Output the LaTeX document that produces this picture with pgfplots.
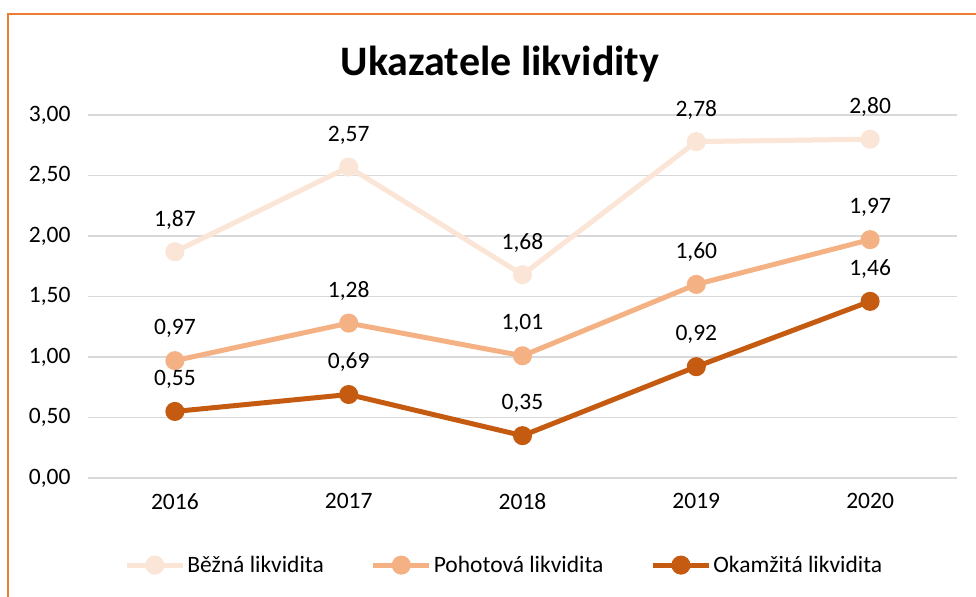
\documentclass[border=0pt]{standalone}
\usepackage{pgfplots}
\pgfplotsset{compat=1.18}
\usepackage{fontspec}
\setmainfont{Carlito}
\definecolor{cA}{HTML}{FBE5D6}
\definecolor{cB}{HTML}{F4B183}
\definecolor{cC}{HTML}{C55A11}
\definecolor{bord}{HTML}{ED7D31}
\definecolor{grd}{HTML}{D9D9D9}
\begin{document}
\begin{tikzpicture}
\path[use as bounding box] (0,0) rectangle (976bp,597bp);
\draw[bord, line width=2.7bp] (8bp,-2bp) -- (8bp,583bp) -- (978bp,583bp);
\node[font=\fontsize{42bp}{48bp}\selectfont\bfseries] at (500bp,533bp) {Ukazatele likvidity};
\begin{axis}[
  at={(88bp,119bp)}, anchor=south west,
  scale only axis, width=869bp, height=363bp,
  xmin=-0.5, xmax=4.5, ymin=0, ymax=3,
  axis line style={draw=none},
  xtick={0,1,2,3,4}, xticklabels={2016,2017,2018,2019,2020},
  ytick={0,0.5,...,3},
  major tick length=0pt,
  ymajorgrids, grid style={grd, line width=1.5bp},
  tick label style={font=\fontsize{23.5bp}{27bp}\selectfont},
  /pgf/number format/assume math mode=true,
  yticklabel={\pgfmathprintnumber[fixed,fixed zerofill,precision=2,use comma]{\tick}},
  yticklabel style={xshift=-14bp},
  xticklabel style={yshift=-12bp},
  nodes near coords={\pgfmathprintnumber[fixed,fixed zerofill,precision=2,use comma,assume math mode=true]{\pgfplotspointmeta}},
  every node near coord/.append style={font=\fontsize{23.5bp}{27bp}\selectfont, anchor=center, yshift=32bp, text=black},
  legend columns=3,
  legend style={at={(axis description cs:0.479,-0.24)}, anchor=center, draw=none, fill=none,
    font=\fontsize{23.5bp}{27bp}\selectfont, /tikz/every even column/.append style={column sep=45bp},
    inner sep=0pt, cells={anchor=west}},
  legend image code/.code={\draw[#1,mark repeat=2,mark phase=2] plot coordinates {(0bp,0bp)(28bp,0bp)(56bp,0bp)};},
  every axis plot/.append style={line width=5bp, mark=*, mark size=7bp, mark options={solid}},
]
\addplot[cA, mark options={fill=cA, draw=cA}] coordinates {(0,1.87)(1,2.57)(2,1.68)(3,2.78)(4,2.80)};
\addlegendentry{Běžná likvidita}
\addplot[cB, mark options={fill=cB, draw=cB}] coordinates {(0,0.97)(1,1.28)(2,1.01)(3,1.60)(4,1.97)};
\addlegendentry{Pohotová likvidita}
\addplot[cC, mark options={fill=cC, draw=cC}] coordinates {(0,0.55)(1,0.69)(2,0.35)(3,0.92)(4,1.46)};
\addlegendentry{Okamžitá likvidita}
\end{axis}
\end{tikzpicture}
\end{document}
